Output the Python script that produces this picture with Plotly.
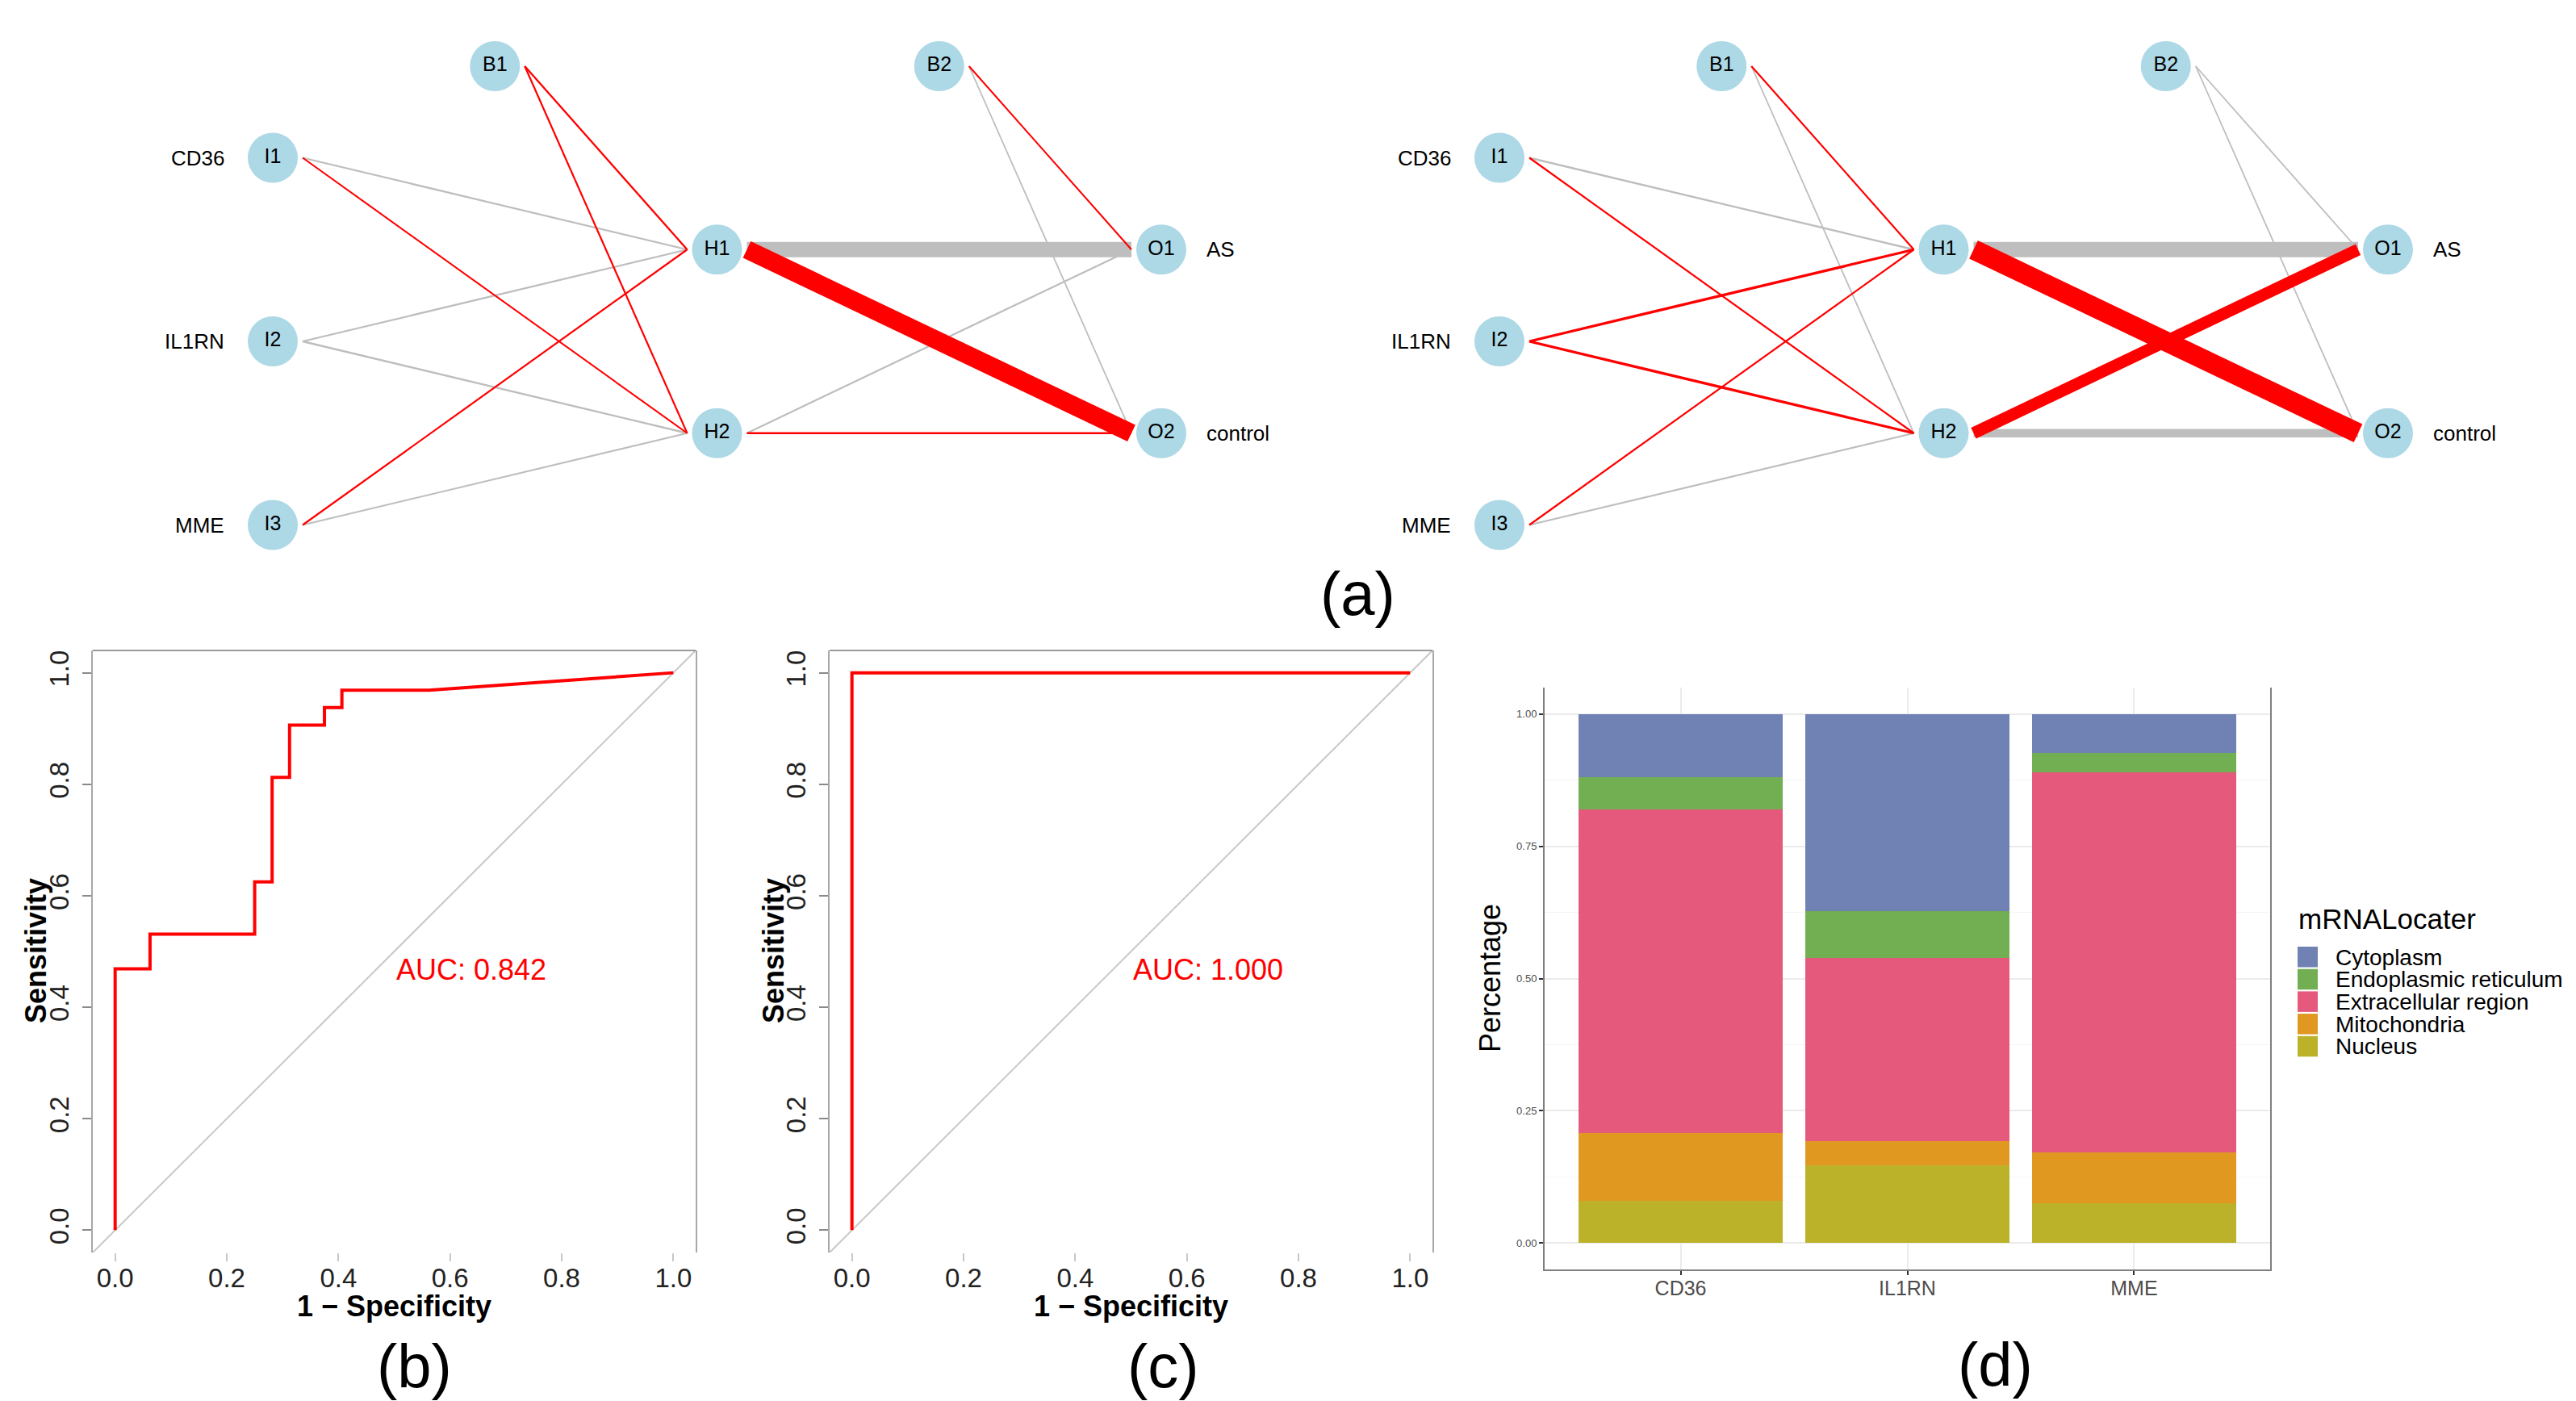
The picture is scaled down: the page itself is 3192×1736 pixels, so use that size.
import plotly.graph_objects as go

W, H = 3192, 1736
FONT = "Liberation Sans, Arial, sans-serif"

# ---------------- data ----------------
# (a) neural networks
input_nodes = ["I1", "I2", "I3"]
input_genes = ["CD36", "IL1RN", "MME"]
hidden_nodes = ["H1", "H2"]
output_nodes = ["O1", "O2"]
output_classes = ["AS", "control"]
# rows: I1, I2, I3, B1 ; cols: H1, H2
net1_w_ih = [[-0.40, 0.35], [-0.40, -0.45], [0.40, -0.35], [0.45, 0.40]]
# rows: H1, H2, B2 ; cols: O1, O2
net1_w_ho = [[-7.2, 8.6], [-0.40, 0.55], [0.35, -0.25]]
net2_w_ih = [[-0.45, 0.40], [0.85, 0.85], [0.40, -0.40], [0.40, -0.25]]
net2_w_ho = [[-7.2, 9.4], [5.4, -3.8], [-0.25, -0.25]]

# (b) ROC curve, AUC 0.842
roc_b_fpr = [0, 0, 0.0625, 0.0625, 0.25, 0.25, 0.28125, 0.28125, 0.3125, 0.3125,
             0.375, 0.375, 0.40625, 0.40625, 0.5625, 1.0]
roc_b_tpr = [0, 0.46875, 0.46875, 0.53125, 0.53125, 0.625, 0.625, 0.8125, 0.8125,
             0.90625, 0.90625, 0.9375, 0.9375, 0.96875, 0.96875, 1.0]
auc_b = "AUC: 0.842"
# (c) ROC curve, AUC 1.000
roc_c_fpr = [0, 0, 1.0]
roc_c_tpr = [0, 1.0, 1.0]
auc_c = "AUC: 1.000"
roc_ticks = [0.0, 0.2, 0.4, 0.6, 0.8, 1.0]

# (d) mRNALocater
genes = ["CD36", "IL1RN", "MME"]
locations = ["Cytoplasm", "Endoplasmic reticulum", "Extracellular region", "Mitochondria", "Nucleus"]
cytoplasm = [0.119, 0.372, 0.073]
endoplasmic = [0.062, 0.089, 0.037]
extracellular = [0.611, 0.347, 0.719]
mitochondria = [0.128, 0.045, 0.096]
nucleus = [0.080, 0.147, 0.075]
loc_values = [cytoplasm, endoplasmic, extracellular, mitochondria, nucleus]
loc_colors = ["#7082B4", "#72AE52", "#E55A7C", "#E09820", "#BBB22A"]
pct_ticks = [0.0, 0.25, 0.5, 0.75, 1.0]


def fx(p):
    return p / W


def fy(p):
    return 1 - p / H


fig = go.Figure()

# ---------------- (a) networks ----------------
NET_X0 = [330, 1850]
LAYER_DX = 550.5
NET_YC = 415
NODE_DY = 227.5
BIAS_Y = 74
OFF = 37
POS_COL = "#FF0000"
NEG_COL = "#BEBEBE"


def net_positions(x0):
    pos = {}
    for i, n in enumerate(input_nodes):
        pos[n] = (x0, NET_YC + (i - 1) * NODE_DY)
    for i, n in enumerate(hidden_nodes):
        pos[n] = (x0 + LAYER_DX, NET_YC + (i - 0.5) * NODE_DY)
    for i, n in enumerate(output_nodes):
        pos[n] = (x0 + 2 * LAYER_DX, NET_YC + (i - 0.5) * NODE_DY)
    pos["B1"] = (x0 + 0.5 * LAYER_DX, BIAS_Y)
    pos["B2"] = (x0 + 1.5 * LAYER_DX, BIAS_Y)
    return pos


annotations = []
shapes = []

for x0, w_ih, w_ho in zip(NET_X0, [net1_w_ih, net2_w_ih], [net1_w_ho, net2_w_ho]):
    pos = net_positions(x0)
    edges = []
    for si, s in enumerate(input_nodes + ["B1"]):
        for ti, t in enumerate(hidden_nodes):
            edges.append((s, t, w_ih[si][ti]))
    for si, s in enumerate(hidden_nodes + ["B2"]):
        for ti, t in enumerate(output_nodes):
            edges.append((s, t, w_ho[si][ti]))
    edges.sort(key=lambda e: (e[2] > 0, abs(e[2])))
    for s, t, w in edges:
        (sx, sy), (tx, ty) = pos[s], pos[t]
        fig.add_trace(go.Scatter(
            x=[sx + OFF, tx - OFF], y=[sy, ty], mode="lines",
            line=dict(color=POS_COL if w > 0 else NEG_COL, width=1.2 + 2.5 * abs(w)),
            xaxis="x", yaxis="y", showlegend=False, hoverinfo="skip"))
    names = input_nodes + hidden_nodes + output_nodes + ["B1", "B2"]
    fig.add_trace(go.Scatter(
        x=[pos[n][0] for n in names], y=[pos[n][1] for n in names],
        mode="markers+text", text=names, textposition="middle center",
        textfont=dict(family=FONT, size=25, color="black"),
        marker=dict(size=62, color="#ADD8E6", line=dict(width=0)),
        xaxis="x", yaxis="y", showlegend=False, hoverinfo="skip"))
    for n, g in zip(input_nodes, input_genes):
        annotations.append(dict(x=pos[n][0] - 58, y=pos[n][1], xref="x", yref="y",
                                text=g, showarrow=False, xanchor="right", yanchor="middle",
                                font=dict(family=FONT, size=26, color="black")))
    for n, c in zip(output_nodes, output_classes):
        annotations.append(dict(x=pos[n][0] + 54, y=pos[n][1], xref="x", yref="y",
                                text=c, showarrow=False, xanchor="left", yanchor="middle",
                                font=dict(family=FONT, size=26, color="black")))

# ---------------- (b), (c) ROC ----------------
for k, (fpr, tpr, auc) in zip(["2", "3"], [(roc_b_fpr, roc_b_tpr, auc_b), (roc_c_fpr, roc_c_tpr, auc_c)]):
    fig.add_trace(go.Scatter(x=[-0.04, 1.04], y=[-0.04, 1.04], mode="lines",
                             line=dict(color="#C8C8C8", width=2),
                             xaxis="x" + k, yaxis="y" + k, showlegend=False, hoverinfo="skip"))
    fig.add_trace(go.Scatter(x=fpr, y=tpr, mode="lines",
                             line=dict(color="#FF0000", width=4),
                             xaxis="x" + k, yaxis="y" + k, showlegend=False))
    annotations.append(dict(x=0.5, y=0.5, xref="x" + k, yref="y" + k, text=auc,
                            showarrow=False, xanchor="left", yanchor="top",
                            font=dict(family=FONT, size=36, color="#FF0000")))
    shapes.append(dict(type="line", xref="x%s domain" % k, yref="y%s domain" % k,
                       x0=0, x1=1, y0=1, y1=1, line=dict(color="#9A9A9A", width=2)))

# ---------------- (d) stacked bars ----------------
for name, vals, col in reversed(list(zip(locations, loc_values, loc_colors))):
    fig.add_trace(go.Bar(x=genes, y=vals, name=name, marker=dict(color=col, line=dict(width=0)),
                         xaxis="x4", yaxis="y4", showlegend=False))

# ggplot-like legend built from the category list
annotations.append(dict(x=fx(2838), y=fy(1130), xref="paper", yref="paper", text="mRNALocater",
                        showarrow=False, xanchor="left", yanchor="middle",
                        font=dict(family=FONT, size=35, color="black")))
for i, (name, col) in enumerate(zip(locations, loc_colors)):
    top = 1165 + 27.7 * i
    shapes.append(dict(type="rect", xref="paper", yref="paper", x0=fx(2839), x1=fx(2864),
                       y0=fy(top + 25.5), y1=fy(top), fillcolor=col, line=dict(width=0)))
    annotations.append(dict(x=fx(2884), y=fy(top + 13), xref="paper", yref="paper", text=name,
                            showarrow=False, xanchor="left", yanchor="middle",
                            font=dict(family=FONT, size=28, color="black")))

# axis titles
for cx in [480, 1393]:
    annotations.append(dict(x=fx(cx), y=fy(1610), xref="paper", yref="paper",
                            text="<b>1 \u2212 Specificity</b>", showarrow=False,
                            xanchor="center", yanchor="middle",
                            font=dict(family=FONT, size=36, color="black")))
for cx in [36, 950]:
    annotations.append(dict(x=fx(cx), y=fy(1170), xref="paper", yref="paper",
                            text="<b>Sensitivity</b>", showarrow=False, textangle=-90,
                            xanchor="center", yanchor="middle",
                            font=dict(family=FONT, size=36, color="black")))
annotations.append(dict(x=fx(1838), y=fy(1204), xref="paper", yref="paper",
                        text="Percentage", showarrow=False, textangle=-90,
                        xanchor="center", yanchor="middle",
                        font=dict(family=FONT, size=36, color="black")))

# panel labels
for lab, cx, cy in [("(a)", 1674, 727), ("(b)", 505, 1684), ("(c)", 1433, 1684), ("(d)", 2464, 1682)]:
    annotations.append(dict(x=fx(cx), y=fy(cy), xref="paper", yref="paper", text=lab,
                            showarrow=False, xanchor="center", yanchor="middle",
                            font=dict(family=FONT, size=76, color="black")))

roc_x = dict(range=[-0.04, 1.04], showline=False, showgrid=False, zeroline=False,
             ticks="outside", ticklen=10, tickwidth=2, tickcolor="#C8C8C8",
             tickvals=roc_ticks, tickformat=".1f", ticklabelstandoff=-8,
             tickfont=dict(family=FONT, size=33, color="#222222"), fixedrange=True)
roc_y = dict(range=[-0.04, 1.04], showline=True, mirror=True, linecolor="#A8A8A8", linewidth=2,
             showgrid=False, zeroline=False, ticks="outside", ticklen=11, tickwidth=2,
             tickcolor="#8A8A8A", tickvals=roc_ticks, tickformat=".1f", tickangle=-90,
             ticklabelstandoff=4,
             tickfont=dict(family=FONT, size=33, color="#222222"), fixedrange=True)

fig.update_layout(
    width=W, height=H, margin=dict(l=0, r=0, t=0, b=0),
    paper_bgcolor="white", plot_bgcolor="white",
    font=dict(family=FONT), showlegend=False,
    barmode="stack", bargap=0.1,
    xaxis=dict(domain=[0, 1], range=[0, W], visible=False, fixedrange=True),
    yaxis=dict(domain=[fy(740), 1], range=[740, 0], visible=False, fixedrange=True),
    xaxis2=dict(domain=[fx(107), fx(854)], anchor="y2", **roc_x),
    yaxis2=dict(domain=[fy(1544), fy(798)], anchor="x2", **roc_y),
    xaxis3=dict(domain=[fx(1020), fx(1767)], anchor="y3", **roc_x),
    yaxis3=dict(domain=[fy(1544), fy(798)], anchor="x3", **roc_y),
    xaxis4=dict(domain=[fx(1906), fx(2805)], anchor="y4", range=[-0.6, 2.6],
                showline=True, linecolor="#7F7F7F", linewidth=2,
                showgrid=True, gridcolor="#EBEBEB", gridwidth=2,
                ticks="outside", ticklen=5, tickwidth=2, tickcolor="#333333",
                ticklabelstandoff=-5,
                tickfont=dict(family=FONT, size=25, color="#4D4D4D"), fixedrange=True),
    yaxis4=dict(domain=[fy(1565), fy(844)], anchor="x4", range=[-0.05, 1.05],
                showline=True, mirror=True, linecolor="#7F7F7F", linewidth=2,
                showgrid=True, gridcolor="#EBEBEB", gridwidth=2, zeroline=False,
                tickvals=pct_ticks, tickformat=".2f",
                minor=dict(tickvals=[0.125, 0.375, 0.625, 0.875], showgrid=True,
                           gridcolor="#F5F5F5", gridwidth=1, ticks=""),
                ticks="outside", ticklen=5, tickwidth=2, tickcolor="#333333",
                tickfont=dict(family=FONT, size=13, color="#4D4D4D"), fixedrange=True),
    annotations=annotations, shapes=shapes,
)

fig.write_html("out.html")
